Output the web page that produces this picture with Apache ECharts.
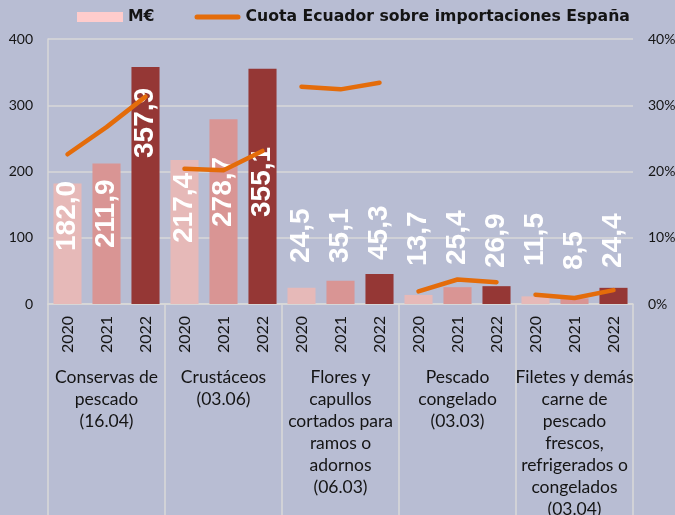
<!DOCTYPE html>
<html>
<head>
<meta charset="utf-8">
<script src="https://cdn.jsdelivr.net/npm/echarts@6/dist/echarts.min.js"></script>
<style>
html,body{margin:0;padding:0;background:#b8bdd3;}
#c{width:675px;height:515px;}
</style>
</head>
<body>
<div id="c"></div>
<script>
// ---- data ----
const groups = [
  'Conservas de\npescado\n(16.04)',
  'Crustáceos\n(03.06)',
  'Flores y\ncapullos\ncortados para\nramos o\nadornos\n(06.03)',
  'Pescado\ncongelado\n(03.03)',
  'Filetes y demás\ncarne de\npescado\nfrescos,\nrefrigerados o\ncongelados\n(03.04)'
];
const years = ['2020', '2021', '2022'];
const valuesMEUR = [
  182.0, 211.9, 357.9,
  217.4, 278.7, 355.1,
  24.5, 35.1, 45.3,
  13.7, 25.4, 26.9,
  11.5, 8.5, 24.4
];
const sharePct = [
  22.6, 26.7, 31.3,
  20.4, 20.2, 23.1,
  32.8, 32.4, 33.4,
  1.9, 3.7, 3.3,
  1.4, 0.9, 2.1
];
const leftTicks = { min: 0, max: 400, interval: 100 };
const rightTicks = { min: 0, max: 40, interval: 10 };
const barName = 'M€';
const lineName = 'Cuota Ecuador sobre importaciones España';

// ---- styling ----
const yearColors = ['#e6b9b8', '#d99594', '#953735'];
const labelLift = [53, 56, 146, 61, 77, 87, 41, 41, 44, 38, 39, 36, 38, 34, 36];
const FONT = 'Lato, "Noto Sans", sans-serif';
const GRID = '#d9d9d9';
const TXT = '#141414';

const xCats = [];
groups.forEach(() => years.forEach(y => xCats.push(y)));

const barData = valuesMEUR.map((v, i) => ({
  value: v,
  itemStyle: { color: yearColors[i % 3] },
  label: { distance: labelLift[i] }
}));

const lineSeries = groups.map((g, gi) => ({
  name: lineName,
  type: 'line',
  xAxisIndex: 0,
  yAxisIndex: 1,
  symbol: 'none',
  z: 3,
  lineStyle: { color: '#e46c0a', width: 4.5, cap: 'round', join: 'round' },
  itemStyle: { color: '#e46c0a' },
  data: sharePct.map((v, i) => (Math.floor(i / 3) === gi ? v : '-'))
}));

const chart = echarts.init(document.getElementById('c'), null, { renderer: 'canvas' });
chart.setOption({
  backgroundColor: '#b8bdd3',
  animation: false,
  textStyle: { fontFamily: FONT },
  legend: {
    left: 77,
    top: 9,
    padding: 0,
    itemGap: 40,
    itemWidth: 46,
    itemHeight: 10,
    textStyle: { fontFamily: '"DejaVu Sans", sans-serif', fontWeight: 'bold', fontSize: 15.7, color: TXT },
    data: [
      { name: barName, icon: 'rect', itemStyle: { color: '#ffcccc' } },
      { name: lineName, icon: 'path://M2.5,0 L43.5,0 A2.5,2.5 0 0 1 43.5,5 L2.5,5 A2.5,2.5 0 0 1 2.5,0 Z', itemStyle: { color: '#e46c0a' } }
    ]
  },
  grid: { left: 48, right: 42, top: 39, bottom: 211, containLabel: false, outerBoundsMode: 'none' },
  xAxis: [
    {
      type: 'category',
      data: xCats,
      position: 'bottom',
      axisLine: { show: true, lineStyle: { color: GRID, width: 1.5 } },
      axisTick: { show: false },
      axisLabel: {
        rotate: 90, interval: 0, margin: 12,
        fontFamily: FONT, fontSize: 16, color: TXT
      }
    },
    {
      type: 'category',
      data: groups,
      position: 'bottom',
      axisLine: { show: false },
      axisTick: { show: true, length: 215, interval: 0, lineStyle: { color: GRID, width: 1.5 } },
      axisLabel: {
        interval: 0, margin: 62,
        fontFamily: FONT, fontSize: 17.5, lineHeight: 22, color: TXT, align: 'center'
      }
    }
  ],
  yAxis: [
    {
      type: 'value',
      min: leftTicks.min, max: leftTicks.max, interval: leftTicks.interval,
      axisLine: { show: true, lineStyle: { color: GRID, width: 1.5 } },
      axisTick: { show: false },
      splitLine: { show: true, lineStyle: { color: GRID, width: 1.5 } },
      axisLabel: { margin: 15, fontFamily: FONT, fontSize: 14, color: TXT }
    },
    {
      type: 'value',
      min: rightTicks.min, max: rightTicks.max, interval: rightTicks.interval,
      position: 'right',
      axisLine: { show: false },
      axisTick: { show: false },
      splitLine: { show: false },
      axisLabel: { margin: 15, fontFamily: FONT, fontSize: 14, color: TXT, formatter: '{value}%' }
    }
  ],
  series: [
    {
      name: barName,
      type: 'bar',
      xAxisIndex: 0,
      yAxisIndex: 0,
      barCategoryGap: '28%',
      itemStyle: { color: '#ffcccc' },
      z: 2,
      label: {
        show: true,
        position: 'insideBottom',
        rotate: 90,
        align: 'left',
        verticalAlign: 'middle',
        fontFamily: '"Liberation Sans", Arial, sans-serif',
        fontWeight: 'bold',
        fontSize: 28,
        color: '#ffffff',
        formatter: p => p.value.toFixed(1).replace('.', ',')
      },
      data: barData
    }
  ].concat(lineSeries)
});
</script>
</body>
</html>
